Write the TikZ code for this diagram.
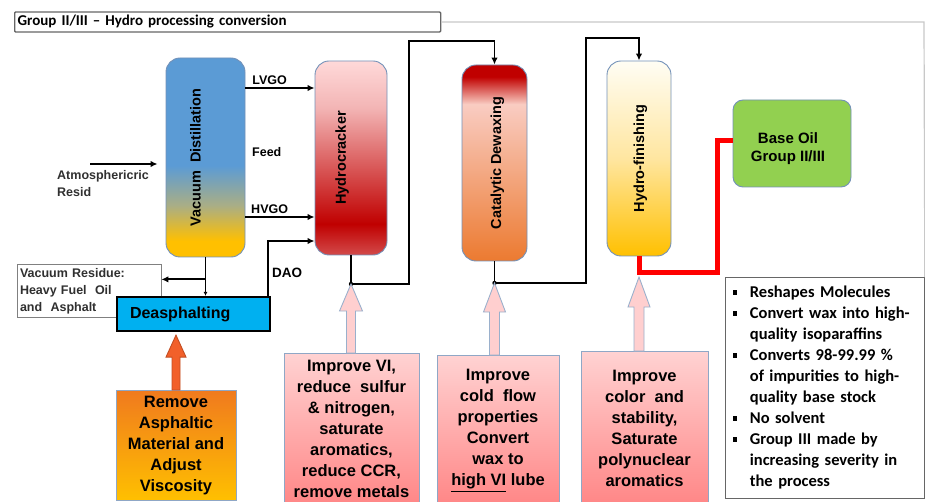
\documentclass[tikz,border=0pt]{standalone}
\usepackage{fontspec}
\setmainfont{Liberation Sans}
\newfontfamily\carlito{Carlito}
\usepackage{tikz}
\usetikzlibrary{shapes,arrows,arrows.meta,positioning,calc}

\definecolor{colborder}{HTML}{7391B8}
\definecolor{vdblue}{HTML}{5B9BD5}
\definecolor{vdmix}{HTML}{A9AE86}
\definecolor{vdgold}{HTML}{FFC000}
\definecolor{hctop}{HTML}{FFD9D9}
\definecolor{hcpink}{HTML}{F3B5B5}
\definecolor{hcred}{HTML}{C00000}
\definecolor{hcbot}{HTML}{D24A4A}
\definecolor{cdred}{HTML}{C00000}
\definecolor{cdpink}{HTML}{F9CCC2}
\definecolor{cdorange}{HTML}{EC7A30}
\definecolor{hftop}{HTML}{FFFDF4}
\definecolor{hfmid}{HTML}{FFE6A0}
\definecolor{hfgold}{HTML}{FFC000}
\definecolor{baseg}{HTML}{92D050}
\definecolor{dacyan}{HTML}{00B0F0}
\definecolor{pinktop}{HTML}{FFD2D2}
\definecolor{pinkbot}{HTML}{FF8686}
\definecolor{pinkarr}{HTML}{FFCFCF}
\definecolor{arrborder}{HTML}{9AB0CC}
\definecolor{orangetop}{HTML}{F07A1E}
\definecolor{orangebot}{HTML}{FFC000}
\definecolor{orangearr}{HTML}{F2602A}
\definecolor{oilred}{HTML}{FF0000}
\definecolor{framegray}{HTML}{C8C8C8}
\definecolor{textgray}{HTML}{303030}

\pgfdeclareverticalshading{vdshade}{100bp}{color(0bp)=(vdgold); color(29bp)=(vdgold); color(38bp)=(vdmix); color(48bp)=(vdblue); color(100bp)=(vdblue)}
\pgfdeclareverticalshading{hcshade}{100bp}{color(0bp)=(hcbot); color(25bp)=(hcbot); color(33bp)=(hcred); color(63bp)=(hcpink); color(75bp)=(hctop); color(100bp)=(hctop)}
\pgfdeclareverticalshading{cdshade}{100bp}{color(0bp)=(cdorange); color(25bp)=(cdorange); color(65bp)=(cdpink); color(72bp)=(cdred); color(100bp)=(cdred)}
\pgfdeclareverticalshading{hfshade}{100bp}{color(0bp)=(hfgold); color(25bp)=(hfgold); color(50bp)=(hfmid); color(75bp)=(hftop); color(100bp)=(hftop)}

\newcommand{\bul}{\makebox[21pt][l]{\hspace{4pt}\rule[3pt]{4.5pt}{4.5pt}}}
\newcommand{\bsp}{\hspace*{21pt}}
% block arrow: style, box, tip, half shaft, half head, head length
\newcommand{\blockup}[6]{%
  \draw[#1] ($(#3 |- #2.north)+(-#4,0)$) -- ($(#3)+(-#4,#6)$) -- ($(#3)+(-#5,#6)$) -- (#3)
    -- ($(#3)+(#5,#6)$) -- ($(#3)+(#4,#6)$) -- ($(#3 |- #2.north)+(#4,0)$) -- cycle;}

\tikzstyle{titlebox} = [draw=black!60, line width=1.3pt, rounded corners=1pt, minimum height=20pt, text width=420pt, inner xsep=3pt, align=left, font=\carlito\bfseries\fontsize{15pt}{16pt}\selectfont]
\tikzstyle{frameline} = [draw=framegray, line width=1.2pt]
\tikzstyle{column} = [draw=colborder, line width=0.9pt, rounded corners=14pt, inner sep=0pt, shade]
\tikzstyle{collabel} = [rotate=90, font=\bfseries\fontsize{14.5pt}{17pt}\selectfont]
\tikzstyle{flowlabel} = [font=\bfseries\fontsize{12.5pt}{15pt}\selectfont, inner sep=2pt]
\tikzstyle{flow} = [draw=black, line width=1.8pt, -{Latex[length=7pt,width=6.5pt]}]
\tikzstyle{redline} = [draw=oilred, line width=5pt]
\tikzstyle{baseoil} = [draw=colborder, fill=baseg, line width=0.9pt, rounded corners=10pt]
\tikzstyle{deasph} = [draw=black, fill=dacyan, line width=2.2pt, minimum width=153pt, minimum height=34pt, text width=127pt, inner xsep=13pt, align=left, font=\bfseries\fontsize{16pt}{18pt}\selectfont]
\tikzstyle{residue} = [draw=black!50, fill=white, line width=0.8pt, minimum width=144pt, minimum height=52pt, text width=138pt, inner xsep=3pt, align=left, text=textgray, font=\bfseries\fontsize{12.5pt}{17pt}\selectfont]
\tikzstyle{notebox} = [draw=colborder!80, line width=0.8pt, anchor=north, align=center, font=\bfseries\fontsize{16.5pt}{21pt}\selectfont]
\tikzstyle{pinkbox} = [notebox, top color=pinktop, bottom color=pinkbot]
\tikzstyle{orangebox} = [notebox, top color=orangetop, bottom color=orangebot]
\tikzstyle{pinkarrow} = [draw=arrborder, fill=pinkarr, line width=0.9pt]
\tikzstyle{orangearrow} = [draw=orangearr!80!black, fill=orangearr, line width=0.9pt]
\tikzstyle{notes} = [draw=black!60, line width=0.8pt, text width=192pt, inner xsep=3.5pt, align=left, font=\carlito\bfseries\fontsize{16.5pt}{21pt}\selectfont]

\begin{document}
\begin{tikzpicture}[x=1pt,y=-1pt]
\useasboundingbox (0,0) rectangle (925,502);

% title and outer frame
\node[titlebox, anchor=west] (title) at (14,22) {Group II/III – Hydro processing conversion};

% process columns
\node[column, minimum width=79pt, minimum height=199pt, shading=vdshade] (vd) at (205.5,157.5) {};
\node[column, minimum width=72pt, minimum height=194pt, shading=hcshade] (hc) at (351,158) {};
\node[column, minimum width=65pt, minimum height=196pt, shading=cdshade] (cd) at (494.5,163) {};
\node[column, minimum width=64pt, minimum height=195pt, shading=hfshade] (hf) at (639,158.5) {};
\node[collabel, yshift=10pt] (vdlabel) at (vd) {Vacuum\ \ Distillation};
\node[collabel, yshift=9pt] (hclabel) at (hc) {Hydrocracker};
\node[collabel, yshift=-3pt] (cdlabel) at (cd) {Catalytic Dewaxing};
\node[collabel, yshift=-1.5pt] (hflabel) at (hf) {Hydro-finishing};

% product
\node[baseoil, minimum width=118pt, minimum height=87pt] (base) at (792,143.5) {};
\node[flowlabel, align=center, font=\bfseries\fontsize{15pt}{18pt}\selectfont] (baselabel) at ([xshift=-4pt,yshift=-5pt]base.center) {Base Oil\\Group II/III};

% feed side
\node[flowlabel, anchor=west, align=left, text=textgray, font=\bfseries\fontsize{12.5pt}{17pt}\selectfont] (atm) at (55,183.5) {Atmosphericric\\Resid};
\coordinate (atmin) at (90,164);
\draw[flow, shorten >=8pt] (atmin) -- (vd.west |- atmin);

\coordinate (lvgoy) at (0,88);
\coordinate (hvgoy) at (0,217);
\coordinate (daoy) at (0,241);
\coordinate (daox) at (268,0);
\draw[flow] (vd.east |- lvgoy) -- node[flowlabel, above, pos=0.35] (lvgo) {LVGO} (hc.west |- lvgoy);
\draw[flow] (vd.east |- hvgoy) -- node[flowlabel, above, pos=0.35] (hvgo) {HVGO} (hc.west |- hvgoy);
\node[flowlabel, anchor=west] (feed) at (250,152) {Feed};

% deasphalting
\node[residue] (res) at (89,291) {Vacuum Residue:\\Heavy Fuel\ \ Oil\\and\ \ Asphalt};
\node[deasph] (da) at (193.5,314) {Deasphalting};
\coordinate (resj) at ($(vd.south)!0.57!(da.north -| vd.south)$);
\draw[flow, -{Latex[length=4pt,width=4pt]}] (vd.south) -- (da.north -| vd.south);
\draw[flow] (resj) -- (res.east |- resj);
\draw[flow] (da.north -| daox) |- (hc.west |- daoy);
\node[flowlabel, anchor=west, font=\bfseries\fontsize{13.5pt}{15pt}\selectfont] (dao) at (270,273) {DAO};

% column to column
\coordinate (hcj) at (hc.south |- 0,284);
\coordinate (hcup) at (409,41);
\coordinate (cdj) at (cd.south |- 0,283);
\coordinate (cdup) at (586,38);
\coordinate (hfj) at (hf.south |- 0,273);
\coordinate (hfup) at (717,141);
\draw[flow] (hc.south) -- (hcj) -| (hcup) -| (cd.north);
\draw[flow] (cd.south) -- (cdj) -| (cdup) -| (hf.north);
\fill (hcj) circle (2.2pt);
\fill (cdj) circle (2.2pt);

% notes under the units
\node[orangebox, minimum width=120pt, minimum height=110pt] (ob) at (176,390) {Remove\\Asphaltic\\Material and\\Adjust\\Viscosity};
\node[pinkbox, minimum width=135pt, minimum height=152pt] (pb1) at (351.5,353) {Improve VI,\\reduce\ \ sulfur\\\& nitrogen,\\saturate\\aromatics,\\reduce CCR,\\remove metals};
\node[pinkbox, minimum width=122pt, minimum height=150pt] (pb2) at (498,355) {Improve\\cold\ \ flow\\properties\\Convert\\wax to\\\underline{high VI} lube};
\node[pinkbox, minimum width=127pt, minimum height=154pt] (pb3) at (644.5,351) {Improve\\color\ \ and\\stability,\\Saturate\\polynuclear\\aromatics};

\coordinate (datip) at ($(ob.north |- da.south)+(0,3)$);
\coordinate (hftip) at ($(hfj)+(0,4)$);
\blockup{orangearrow}{ob}{datip}{4}{10}{22}
\blockup{pinkarrow}{pb1}{hcj}{4.5}{11.5}{27}
\blockup{pinkarrow}{pb2}{cdj}{5}{11}{29}
\blockup{pinkarrow}{pb3}{hftip}{5}{11}{30}

\draw[redline] (hf.south) -- (hfj) -| (hfup) -- (base.west |- hfup);

% summary
\node[notes, anchor=north west, minimum width=199pt, minimum height=221pt] (notes) at (725,277) {%
\bul Reshapes Molecules\\
\bul Convert wax into high-\\
\bsp quality isoparaffins\\
\bul Converts 98-99.99 \%\\
\bsp of impurities to high-\\
\bsp quality base stock\\
\bul No solvent\\
\bul Group III made by\\
\bsp increasing severity in\\
\bsp the process};
\coordinate (frametr) at (924,22);
\draw[frameline] (title.east) -- (frametr) -- (notes.north east);
\end{tikzpicture}
\end{document}
